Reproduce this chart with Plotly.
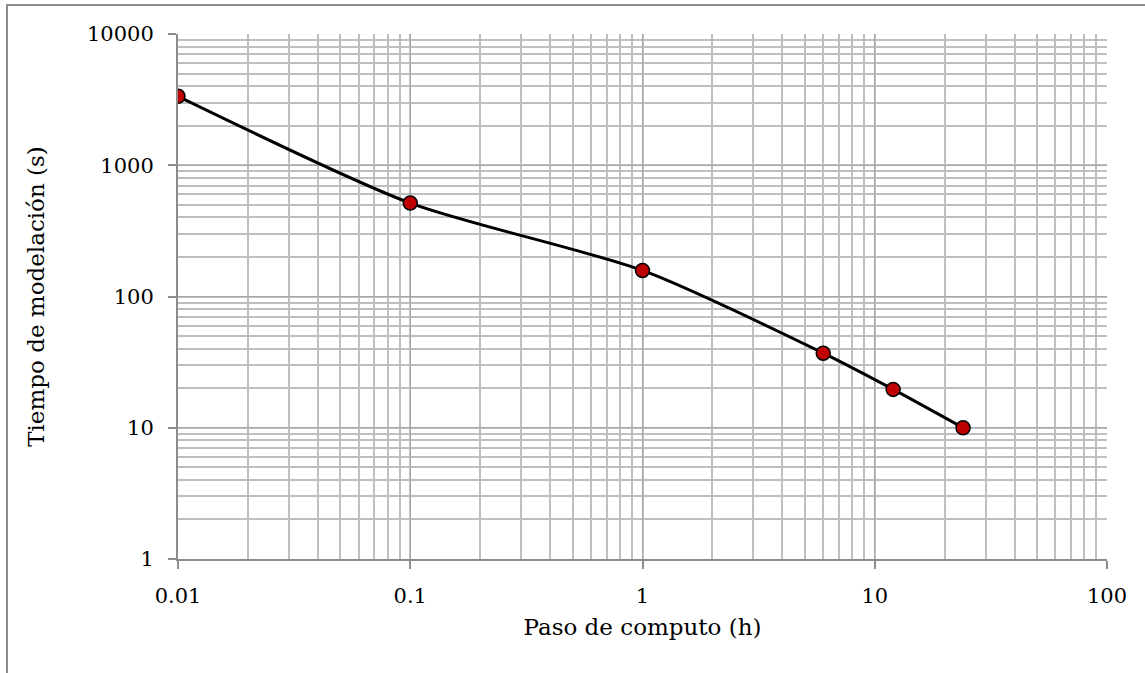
import plotly.graph_objects as go

x_vals = [0.01, 0.1, 1, 6, 12, 24]
y_vals = [3350, 515, 158, 37, 19.6, 10]
x_ticks = [0.01, 0.1, 1, 10, 100]
x_tick_labels = ["0.01", "0.1", "1", "10", "100"]
y_ticks = [1, 10, 100, 1000, 10000]
y_tick_labels = ["1", "10", "100", "1000", "10000"]

L, T, R, B = 178, 34, 1107, 559
W, H = 1145, 673
pw, ph = R - L, B - T

font_fam = "DejaVu Serif"

fig = go.Figure()
fig.add_trace(go.Scatter(
    x=x_vals, y=y_vals, mode="lines+markers",
    line=dict(color="black", width=3, shape="spline", smoothing=0.7),
    marker=dict(color="#c00000", size=14, line=dict(color="black", width=1.5)),
    showlegend=False,
))

axis_common = dict(
    type="log", showgrid=True, gridcolor="#a6a6a6", gridwidth=1,
    showline=True, linecolor="#8c8c8c", linewidth=2,
    ticks="outside", ticklen=8, tickcolor="#8c8c8c", tickwidth=2,
    tickfont=dict(family=font_fam, size=21, color="black"),
    minor=dict(dtick="D1", showgrid=True, gridcolor="#bfbfbf", gridwidth=1.5, ticks=""),
    zeroline=False, mirror=False,
)

fig.update_layout(
    width=W, height=H,
    margin=dict(l=L, r=W - R, t=T, b=H - B),
    paper_bgcolor="white", plot_bgcolor="white",
    xaxis=dict(axis_common, range=[-2, 2], tickvals=x_ticks, ticktext=x_tick_labels,
               ticklabelstandoff=9,
               title=dict(text="Paso de computo (h)", font=dict(family=font_fam, size=23, color="black"), standoff=12)),
    yaxis=dict(axis_common, range=[0, 4], tickvals=y_ticks, ticktext=y_tick_labels,
               ticklabelstandoff=10,
               title=dict(text="Tiempo de modelación (s)", font=dict(family=font_fam, size=23, color="black"), standoff=36)),
    shapes=[dict(type="rect", xref="paper", yref="paper",
                 x0=(7 - L) / pw, x1=(W + 10 - L) / pw,
                 y0=-(H + 10 - B) / ph, y1=1 + (T - 5) / ph,
                 line=dict(color="#8c8c8c", width=2), layer="below")],
)

fig.write_html("out.html")
